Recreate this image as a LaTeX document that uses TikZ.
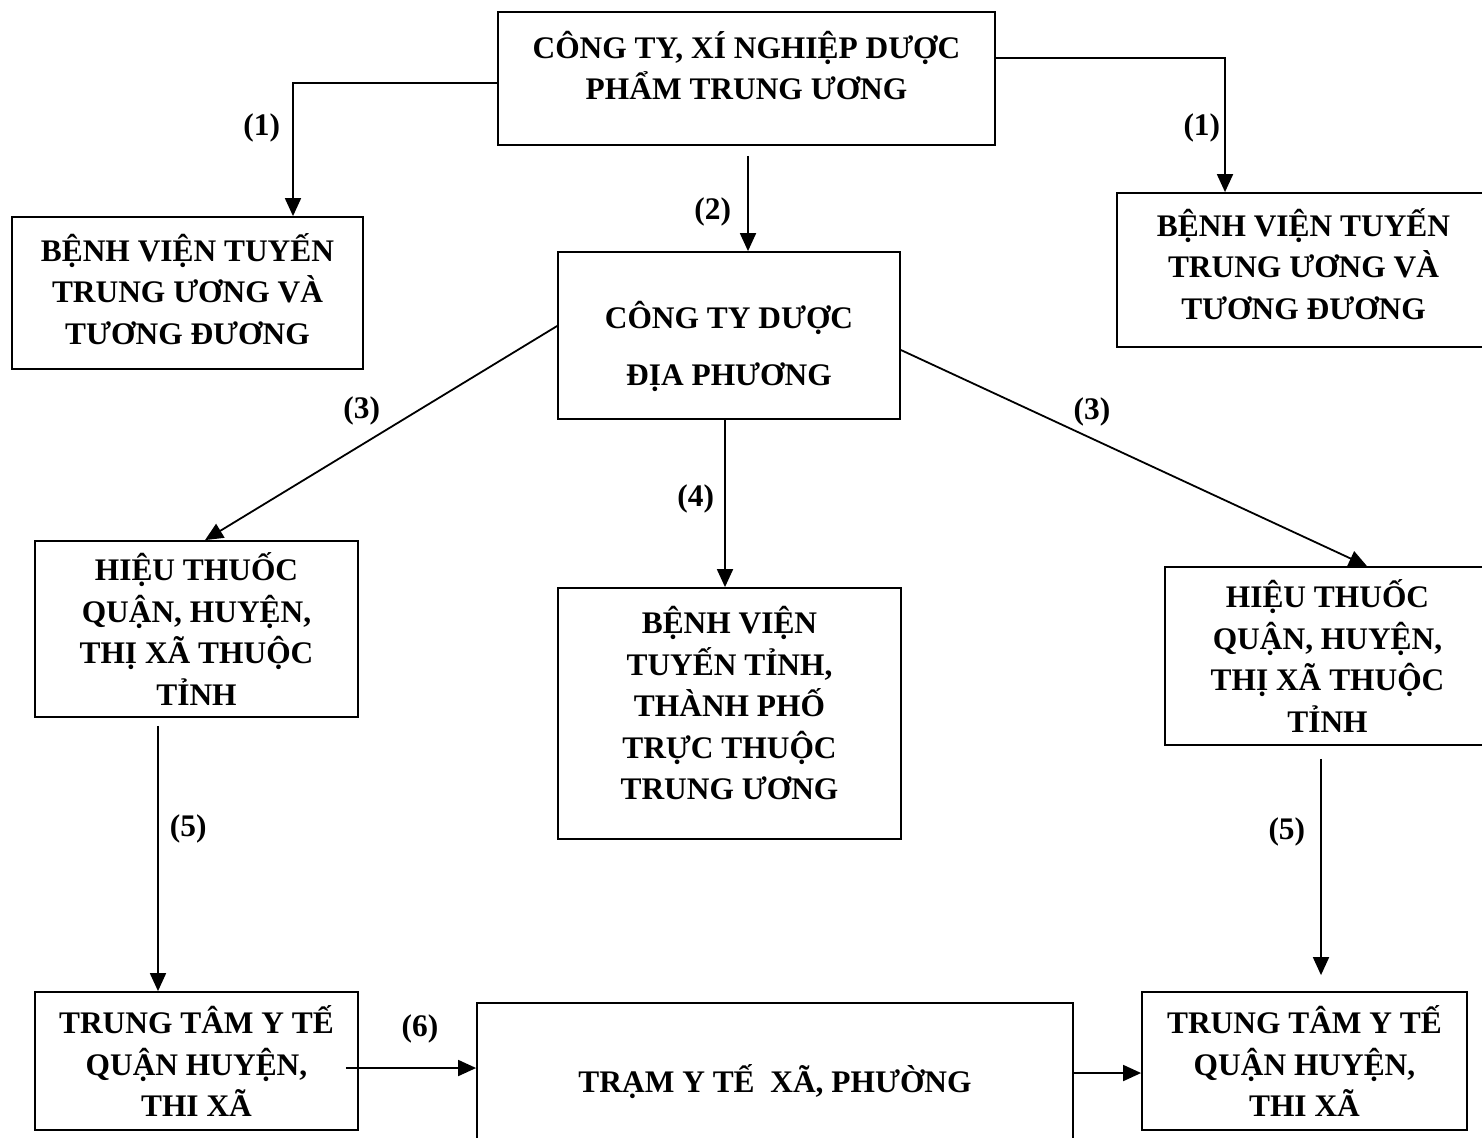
\documentclass[tikz,border=0pt]{standalone}
\usepackage{fontspec}
\setmainfont{Liberation Serif}
\usetikzlibrary{arrows.meta, positioning, calc}

\begin{document}
\begin{tikzpicture}[x=0.5pt, y=-0.5pt, >={Triangle[length=9pt,width=8pt]},
  font=\bfseries\fontsize{15.7}{20.75}\selectfont]

% Styles
\tikzstyle{box} = [rectangle, draw=black, line width=0.9pt, align=center, inner sep=0pt]
\tikzstyle{txt} = [align=center, inner sep=0pt]
\tikzstyle{arrow} = [line width=0.9pt,->]
\tikzstyle{num} = [inner sep=2pt]

\useasboundingbox (0,0) rectangle (1482,1137);
\clip (0,0) rectangle (1482,1137);

% --- Nodes ---

% 1. Central level
\node (top) [box, minimum width=248.5pt, minimum height=66.5pt] at (746.5,78.5) {};
\node (top_text) [txt] at ([yshift=6.5pt]top.center) {CÔNG TY, XÍ NGHIỆP DƯỢC\\PHẨM TRUNG ƯƠNG};

\node (bv_left) [box, minimum width=175.5pt, minimum height=76pt] at (187.5,293) {};
\node (bv_left_text) [txt] at ([yshift=2pt]bv_left.center) {BỆNH VIỆN TUYẾN\\TRUNG ƯƠNG VÀ\\TƯƠNG ĐƯƠNG};
\node (bv_right) [box, minimum width=186.5pt, minimum height=77pt] at (1303.5,270) {};
\node (bv_right_text) [txt] at ([yshift=3pt]bv_right.center) {BỆNH VIỆN TUYẾN\\TRUNG ƯƠNG VÀ\\TƯƠNG ĐƯƠNG};

% 2. Local company
\node (local) [box, minimum width=171pt, minimum height=83.5pt] at (729,335.5) {};
\node (local_text) [txt, font=\bfseries\fontsize{15.7}{28.5}\selectfont] at ([yshift=-5.5pt]local.center) {CÔNG TY DƯỢC\\ĐỊA PHƯƠNG};

% 3. Pharmacies & provincial hospital
\node (shop_left) [box, minimum width=161.5pt, minimum height=88pt] at (196.5,629) {HIỆU THUỐC\\QUẬN, HUYỆN,\\THỊ XÃ THUỘC\\TỈNH};
\node (bv_prov) [box, minimum width=171.5pt, minimum height=125.5pt] at (729.5,713.5) {};
\node (bv_prov_text) [txt] at ([yshift=5pt]bv_prov.center) {BỆNH VIỆN\\TUYẾN TỈNH,\\THÀNH PHỐ\\TRỰC THUỘC\\TRUNG ƯƠNG};
\node (shop_right) [box, minimum width=162.5pt, minimum height=89pt] at (1327.5,656) {HIỆU THUỐC\\QUẬN, HUYỆN,\\THỊ XÃ THUỘC\\TỈNH};

% 4. District level
\node (center_left) [box, minimum width=161.5pt, minimum height=69pt] at (196.5,1061) {TRUNG TÂM Y TẾ\\QUẬN HUYỆN,\\THI XÃ};
\node (station) [box, minimum width=298pt, minimum height=78.5pt] at (775,1081.5) {TRẠM Y TẾ\ \ XÃ, PHƯỜNG};
\node (center_right) [box, minimum width=162.5pt, minimum height=69pt] at (1304.5,1061) {TRUNG TÂM Y TẾ\\QUẬN HUYỆN,\\THI XÃ};

% --- Arrows ---
\draw[arrow] ([yshift=-2.25pt]top.west) -| node[num, pos=0.67, left=4pt] {(1)} ([xshift=52.75pt]bv_left.north);
\draw[arrow] ([yshift=10.25pt]top.east) -| node[num, pos=0.76, left=0pt] {(1)} ([xshift=-39.25pt]bv_right.north);
\draw[arrow] ([shift={(0.75pt,-5pt)}]top.south) -- node[num, pos=0.59, left=6pt] {(2)} ([xshift=9.5pt]local.north);

\draw[arrow] ([yshift=4.75pt]local.west) -- node[num, pos=0.555, above=7.5pt] {(3)} ([xshift=4.25pt]shop_left.north);
\draw[arrow] ([yshift=-7.25pt]local.east) -- node[num, pos=0.41, above=4pt] {(3)} ([xshift=19.75pt]shop_right.north);
\draw[arrow] ([xshift=-2pt]local.south) -- node[num, pos=0.47, left=3pt] {(4)} ([xshift=-2.25pt]bv_prov.north);

\draw[arrow] ([shift={(-19.25pt,-4pt)}]shop_left.south) -- node[num, pos=0.39, right=3.5pt] {(5)} ([xshift=-19.25pt]center_left.north);
\draw[arrow] ([shift={(-3.25pt,-6.5pt)}]shop_right.south) -- node[num, pos=0.34, left=5.5pt] {(5)} ([shift={(8.25pt,8pt)}]center_right.north);

% --- Bottom row ---
\draw[arrow] ([shift={(-6.5pt,-3.5pt)}]center_left.east) -- node[num, above=10pt, xshift=4.5pt] {(6)} ([yshift=6.75pt]station.west);
\draw[arrow] ([yshift=4.25pt]station.east) -- ([yshift=4.25pt]station.east -| center_right.west);

\end{tikzpicture}
\end{document}
